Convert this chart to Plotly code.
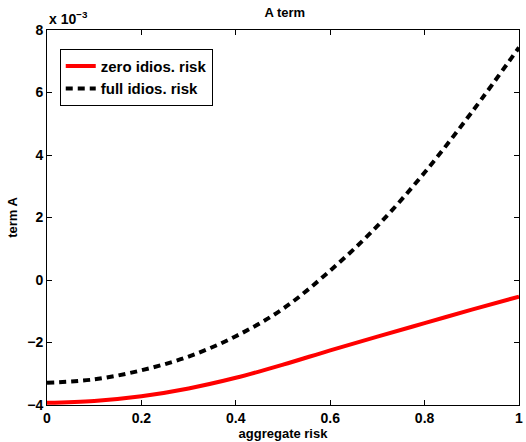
import numpy as np
import plotly.graph_objects as go

# aggregate risk (x)
aggregate_risk = [0.0, 0.1, 0.2, 0.3, 0.4, 0.5, 0.6, 0.7, 0.8, 0.9, 1.0]
# term A values, in units of 1e-3
zero_idio_e3 = [-3.93, -3.87, -3.72, -3.47, -3.13, -2.71, -2.25, -1.81, -1.38, -0.95, -0.53]
full_idio_e3 = [-3.29, -3.18, -2.89, -2.45, -1.80, -0.92, 0.30, 1.73, 3.44, 5.37, 7.44]

x_ticks = [0, 0.2, 0.4, 0.6, 0.8, 1]
x_ticktext = ["0", "0.2", "0.4", "0.6", "0.8", "1"]
y_ticks_e3 = [-4, -2, 0, 2, 4, 6, 8]
y_ticktext = ["\u22124", "\u22122", "0", "2", "4", "6", "8"]

scale = 1e-3
zero_idio = np.array(zero_idio_e3) * scale
full_idio = np.array(full_idio_e3) * scale

font_family = "Liberation Sans, Arial, sans-serif"

fig = go.Figure()
fig.add_trace(go.Scatter(
    x=aggregate_risk, y=zero_idio, mode="lines", name="<b>zero idios. risk</b>",
    line=dict(color="#ff0000", width=4, shape="spline"),
))
fig.add_trace(go.Scatter(
    x=aggregate_risk, y=full_idio, mode="lines", name="<b>full idios. risk</b>",
    line=dict(color="#000000", width=4, dash="7px,5px", shape="spline"),
))

axis_common = dict(
    showline=True, linecolor="black", linewidth=1, mirror="ticks",
    ticks="inside", ticklen=5, tickcolor="black", showgrid=False, zeroline=False,
    tickfont=dict(family=font_family, size=14, color="black"),
    ticklabeloverflow="allow",
)

fig.update_layout(
    width=526, height=442,
    margin=dict(l=47, r=3, t=30, b=37),
    paper_bgcolor="white", plot_bgcolor="white",
    font=dict(family=font_family, color="black"),
    title=dict(text="<b>A term</b>", x=0.5415, xanchor="center", y=0.982, yanchor="top",
               font=dict(size=13, family=font_family, color="black")),
    xaxis=dict(range=[0, 1], tickvals=x_ticks, ticktext=["<b>%s</b>" % t for t in x_ticktext],
               title=dict(text="<b>aggregate risk</b>", font=dict(size=13, family=font_family), standoff=1),
               **axis_common),
    yaxis=dict(range=[-4 * scale, 8 * scale], tickvals=[v * scale for v in y_ticks_e3],
               ticktext=["<b>%s</b>" % t for t in y_ticktext],
               title=dict(text="<b>term A</b>", font=dict(size=13, family=font_family), standoff=6),
               **axis_common),
    legend=dict(x=0.027, y=0.95, xanchor="left", yanchor="top",
                bordercolor="black", borderwidth=1, bgcolor="white",
                font=dict(size=15, family=font_family, color="black"),
                tracegroupgap=0, itemwidth=30),
    showlegend=True,
)

fig.add_annotation(
    text="<b>x 10<sup>\u22123</sup></b>", xref="paper", yref="paper", x=0, y=1,
    xanchor="left", yanchor="bottom", showarrow=False, yshift=1,
    font=dict(size=14, family=font_family, color="black"),
)

fig.write_html("out.html", config={"displayModeBar": False},
               post_script="document.body.style.margin='0px';document.body.style.overflow='hidden';")
